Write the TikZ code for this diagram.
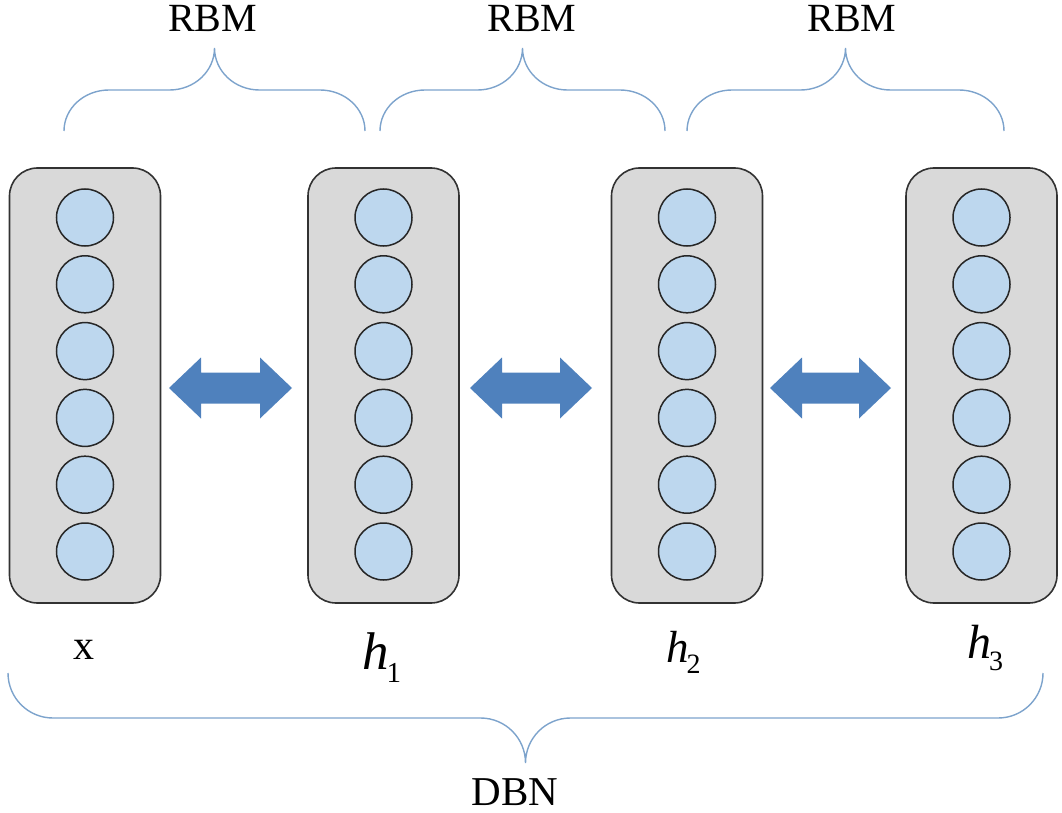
\documentclass[tikz,border=0pt]{standalone}
\usepackage{fontspec}
\setmainfont{Liberation Serif}
\usetikzlibrary{calc}
\definecolor{bracec}{RGB}{125,163,204}
\definecolor{boxfill}{RGB}{217,217,217}
\definecolor{boxline}{RGB}{50,50,50}
\definecolor{unitfill}{RGB}{189,215,238}
\definecolor{unitline}{RGB}{38,38,38}
\definecolor{arrowc}{RGB}{79,129,189}
\newcommand\mybrace[5]{% x0, x1, yend, yflat, ytip
  \draw[brc] (#1,#3) .. controls (#1,{#3+0.55*(#4-#3)}) and ({#1+20},#4) .. ({#1+45},#4)
    -- ({(#1+#2)/2-45},#4) .. controls ({(#1+#2)/2-20},#4) and ({(#1+#2)/2},{#5-0.55*(#5-#4)}) .. ({(#1+#2)/2},#5)
    .. controls ({(#1+#2)/2},{#5-0.55*(#5-#4)}) and ({(#1+#2)/2+20},#4) .. ({(#1+#2)/2+45},#4)
    -- ({#2-45},#4) .. controls ({#2-20},#4) and (#2,{#3+0.55*(#4-#3)}) .. (#2,#3);}
\newcommand\blockarrow[2]{%
  \fill[arrowc] let \p1=(#1), \p2=(#2) in
    (\x1,\y1) -- (\x1+32pt,\y1+30.5pt) -- (\x1+32pt,\y1+15.5pt) -- (\x2-32pt,\y2+15.5pt)
    -- (\x2-32pt,\y2+30.5pt) -- (\x2,\y2) -- (\x2-32pt,\y2-30.5pt) -- (\x2-32pt,\y2-15.5pt)
    -- (\x1+32pt,\y1-15.5pt) -- (\x1+32pt,\y1-30.5pt) -- cycle;}
\begin{document}
\begin{tikzpicture}[x=1pt,y=-1pt,
  layer/.style={draw=boxline, fill=boxfill, line width=1.6pt, rounded corners=28pt,
    minimum width=151pt, minimum height=435pt, inner sep=0pt},
  unit/.style={circle, draw=unitline, fill=unitfill, line width=1.5pt,
    minimum size=57pt, inner sep=0pt},
  brc/.style={draw=bracec, line width=1.4pt},
  lbl/.style={inner sep=0pt, anchor=base}]
\useasboundingbox (0,0) rectangle (1062,813);
% layers
\foreach \n/\cx in {1/85,2/383.5,3/687,4/981.5}{
  \node[layer] (L\n) at (\cx,385.5) {};
  \foreach \k in {0,...,5}{
    \node[unit] (L\n u\k) at (\cx,{217.5+66.8*\k}) {};
  }
}
% block arrows
\coordinate (a1s) at (169,388); \coordinate (a1e) at (292,388);
\coordinate (a2s) at (470,388); \coordinate (a2e) at (592,388);
\coordinate (a3s) at (770,388); \coordinate (a3e) at (891,388);
\blockarrow{a1s}{a1e}
\blockarrow{a2s}{a2e}
\blockarrow{a3s}{a3e}
% braces
\mybrace{64}{365}{131}{90}{48}
\mybrace{380}{665}{131}{90}{48}
\mybrace{687}{1004}{131}{90}{48}
\mybrace{8}{1043}{673}{718}{763}
% labels
\node[lbl] (r1) at (212.5,32) {\fontsize{40}{40}\selectfont RBM};
\node[lbl] (r2) at (532,32) {\fontsize{40}{40}\selectfont RBM};
\node[lbl] (r3) at (852,32) {\fontsize{40}{40}\selectfont RBM};
\node[lbl] (dbn) at (515,805) {\fontsize{41}{41}\selectfont DBN};
\node[lbl] (lx) at (84,659) {\fontsize{42}{42}\selectfont x};
\node[lbl, anchor=base west] (lh1) at (362,669) {\fontsize{53}{53}\selectfont\itshape h\kern-2pt\upshape\fontsize{29}{29}\selectfont\raisebox{-13pt}{1}};
\node[lbl, anchor=base west] (lh2) at (666,662) {\fontsize{45}{45}\selectfont\itshape h\kern-2pt\upshape\fontsize{28}{28}\selectfont\raisebox{-11pt}{2}};
\node[lbl, anchor=base west] (lh3) at (967,658) {\fontsize{48}{48}\selectfont\itshape h\kern-2pt\upshape\fontsize{28}{28}\selectfont\raisebox{-12pt}{3}};
\end{tikzpicture}
\end{document}
